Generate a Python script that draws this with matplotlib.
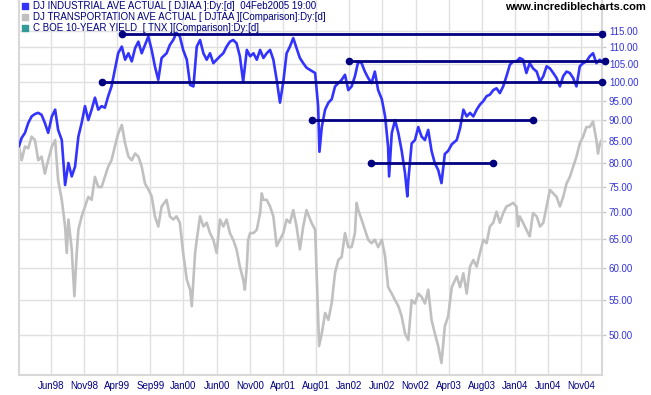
import matplotlib
matplotlib.use("Agg")
import matplotlib.pyplot as plt
from matplotlib.lines import Line2D
from matplotlib.ticker import FixedLocator, FuncFormatter, NullLocator

# trading-day index (0 = start of chart) and closes
djia_day = [0, 8, 18, 28, 38, 48, 58, 68, 78, 88,
            99, 109, 118, 129, 139, 149, 159, 169, 179, 189,
            199, 209, 219, 229, 239, 249, 259, 269, 279, 289,
            299, 310, 320, 330, 340, 350, 360, 370, 380, 390,
            400, 410, 420, 430, 445, 455, 465, 475, 485, 495,
            506, 516, 526, 536, 546, 556, 566, 576, 586, 596,
            606, 616, 626, 636, 646, 656, 666, 676, 687, 697,
            707, 717, 727, 737, 747, 757, 767, 777, 787, 797,
            807, 817, 827, 837, 847, 857, 867, 877, 893, 902,
            906, 913, 923, 933, 943, 953, 963, 973, 983, 993,
            1003, 1013, 1023, 1033, 1043, 1053, 1063, 1073, 1083, 1094,
            1104, 1113, 1116, 1124, 1134, 1144, 1154, 1164, 1171, 1174,
            1184, 1194, 1204, 1214, 1224, 1234, 1244, 1254, 1264, 1274,
            1284, 1294, 1305, 1320, 1330, 1340, 1350, 1360, 1370, 1380,
            1390, 1400, 1410, 1420, 1430, 1440, 1450, 1460, 1470, 1480,
            1490, 1500, 1510, 1520, 1530, 1540, 1550, 1561, 1571, 1581,
            1591, 1601, 1611, 1621, 1631, 1641, 1651, 1661, 1671, 1681,
            1691, 1701, 1711, 1721, 1731, 1741, 1751, 1757]
djia_val = [83.9, 85.8, 87.0, 89.4, 91.0, 91.6, 91.9, 91.4, 89.4, 87.0,
            91.0, 92.7, 87.7, 85.3, 75.4, 80.1, 77.2, 79.3, 86.1, 89.4,
            93.6, 90.1, 92.7, 95.8, 92.7, 93.6, 93.2, 96.2, 98.8, 103.4,
            108.2, 110.2, 106.3, 108.2, 105.8, 109.7, 111.7, 108.2, 110.7, 113.3,
            109.2, 104.3, 100.6, 106.8, 108.2, 110.7, 112.2, 114.4, 113.3, 109.2,
            106.3, 99.2, 98.8, 110.2, 112.2, 108.2, 106.3, 108.2, 105.3, 106.3,
            107.3, 108.2, 110.2, 111.7, 112.2, 111.2, 107.3, 100.1, 109.2, 107.3,
            108.2, 106.3, 109.2, 106.8, 108.2, 109.2, 106.3, 100.6, 94.5, 100.1,
            108.2, 110.2, 112.8, 109.7, 106.8, 105.3, 104.0, 103.4, 102.5, 93.6,
            82.6, 88.4, 92.7, 94.5, 95.4, 98.8, 99.7, 100.6, 102.0, 97.8,
            98.8, 101.6, 105.8, 105.3, 102.9, 101.1, 99.7, 102.9, 97.8, 95.4,
            91.0, 83.7, 77.2, 86.9, 90.1, 86.9, 82.8, 77.9, 73.1, 76.4,
            84.5, 85.3, 88.4, 86.1, 85.3, 87.7, 82.8, 80.0, 78.6, 75.8,
            82.1, 82.8, 84.3, 85.3, 88.1, 92.7, 91.0, 91.9, 91.0, 92.7,
            94.0, 94.9, 96.2, 96.6, 97.8, 98.3, 97.0, 98.8, 101.6, 104.8,
            105.8, 105.8, 106.8, 106.3, 102.5, 105.3, 103.8, 102.9, 100.1, 101.6,
            104.4, 103.8, 102.5, 101.1, 98.8, 101.6, 102.9, 102.5, 101.1, 98.8,
            104.4, 105.3, 105.8, 107.3, 108.2, 105.3, 106.3, 105.8]

djta_day = [0, 8, 18, 28, 38, 48, 58, 68, 78, 88,
            99, 109, 118, 129, 139, 144, 149, 159, 167, 174,
            179, 189, 199, 209, 219, 229, 239, 249, 259, 269,
            279, 289, 299, 310, 320, 330, 340, 350, 360, 370,
            380, 390, 400, 410, 420, 430, 445, 455, 465, 475,
            485, 495, 506, 516, 521, 526, 531, 536, 546, 556,
            566, 576, 586, 596, 606, 616, 626, 636, 646, 656,
            666, 676, 681, 687, 691, 697, 707, 717, 727, 732,
            737, 747, 757, 767, 777, 787, 797, 807, 817, 827,
            837, 847, 857, 867, 882, 893, 901, 905, 913, 923,
            933, 943, 953, 963, 973, 983, 993, 1003, 1013, 1018,
            1023, 1033, 1043, 1053, 1063, 1073, 1083, 1094, 1104, 1113,
            1124, 1134, 1144, 1154, 1164, 1174, 1184, 1194, 1204, 1214,
            1224, 1234, 1244, 1254, 1264, 1274, 1284, 1294, 1305, 1320,
            1330, 1340, 1350, 1360, 1370, 1380, 1390, 1400, 1410, 1420,
            1430, 1440, 1450, 1460, 1470, 1480, 1490, 1500, 1505, 1510,
            1520, 1530, 1540, 1550, 1561, 1571, 1581, 1591, 1601, 1611,
            1621, 1631, 1641, 1651, 1661, 1671, 1681, 1691, 1701, 1711,
            1721, 1731, 1741, 1746, 1751, 1757]
djta_val = [83.8, 80.7, 83.8, 83.4, 86.1, 85.3, 80.7, 81.5, 77.8, 80.7,
            83.8, 85.3, 76.4, 72.4, 67.3, 62.6, 68.6, 63.2, 55.6, 62.6,
            66.7, 69.2, 71.1, 73.0, 72.4, 77.1, 75.0, 75.0, 77.1, 79.3,
            80.7, 83.8, 86.8, 88.9, 84.5, 81.5, 80.7, 82.2, 81.5, 79.3,
            75.7, 74.5, 73.1, 69.2, 67.3, 71.1, 72.4, 69.2, 68.6, 69.2,
            68.0, 62.6, 58.2, 56.6, 54.1, 58.2, 62.6, 64.9, 69.2, 67.3,
            68.0, 66.1, 64.9, 62.6, 68.6, 67.3, 68.6, 66.1, 64.9, 63.2,
            60.3, 58.2, 56.6, 60.3, 64.9, 66.1, 66.1, 66.7, 69.8, 73.7,
            72.4, 72.4, 71.1, 69.2, 63.8, 64.9, 66.1, 68.6, 68.0, 70.4,
            67.3, 63.2, 67.3, 70.4, 68.0, 66.7, 54.1, 48.5, 50.2, 53.1,
            52.1, 54.6, 59.3, 61.4, 61.9, 66.1, 63.6, 63.6, 66.1, 71.8,
            70.4, 68.6, 66.7, 64.9, 64.3, 64.9, 63.6, 64.9, 62.0, 57.0,
            56.0, 55.0, 54.1, 52.6, 50.2, 49.3, 55.0, 54.5, 56.0, 55.5,
            54.5, 56.6, 52.1, 50.2, 48.5, 46.3, 51.2, 52.6, 57.0, 58.7,
            57.0, 59.2, 56.0, 60.3, 61.4, 60.3, 62.6, 64.9, 64.3, 67.3,
            68.0, 70.1, 68.0, 69.8, 71.1, 71.4, 71.8, 71.1, 67.3, 69.2,
            68.0, 66.7, 65.5, 69.8, 69.2, 67.3, 68.0, 71.1, 74.4, 73.7,
            73.0, 71.1, 73.0, 75.7, 77.1, 79.3, 81.5, 84.5, 86.1, 88.4,
            88.4, 89.7, 85.3, 82.2, 84.3, 85.3]

# horizontal support / resistance lines: start day, end day, level
line_start = [310, 251, 996, 884, 1061]
line_end = [1757, 1757, 1766, 1551, 1430]
line_level = [114.2, 100.0, 106.0, 90.0, 80.0]

tick_days = [96 + 100 * i for i in range(17)]
tick_labels = ["Jun98", "Nov98", "Apr99", "Sep99", "Jan00", "Jun00", "Nov00",
               "Apr01", "Aug01", "Jan02", "Jun02", "Nov02", "Apr03", "Aug03",
               "Jan04", "Jun04", "Nov04"]
price_ticks = [50, 55, 60, 65, 70, 75, 80, 85, 90, 95, 100, 105, 110, 115]

legend_labels = ["DJ INDUSTRIAL AVE ACTUAL [ DJIAA ]:Dy:[d]  04Feb2005 19:00",
                 "DJ TRANSPORTATION AVE ACTUAL [ DJTAA ][Comparison]:Dy:[d]",
                 "C BOE 10-YEAR YIELD  [ TNX ][Comparison]:Dy:[d]"]
legend_colors = ["#3333ff", "#c0c0c0", "#339999"]

plt.rcParams['font.family'] = ['Liberation Sans', 'DejaVu Sans']

fig = plt.figure(figsize=(6.51, 3.95), dpi=100)
ax = fig.add_axes([19 / 651, 20 / 395, 583 / 651, 375 / 395])
ax.set_yscale('log')

ax.plot(djta_day, djta_val, color='#c0c0c0', lw=1.9, zorder=2)
ax.plot(djia_day, djia_val, color='#3333ff', lw=1.9, zorder=3)
for d0, d1, lvl in zip(line_start, line_end, line_level):
    ax.plot([d0, d1], [lvl, lvl], color='#000080', lw=2.0, marker='o',
            ms=4.5, zorder=4, clip_on=False)

ax.set_xlim(0, 1758)
ax.set_ylim(44.8, 125.2)

ax.set_xticks(tick_days)
ax.set_xticklabels(tick_labels)
ax.yaxis.tick_right()
ax.yaxis.set_major_locator(FixedLocator(price_ticks))
ax.yaxis.set_major_formatter(FuncFormatter(lambda v, p: "%.2f" % v))
ax.yaxis.set_minor_locator(NullLocator())

ax.tick_params(axis='x', length=0, labelsize=7, labelcolor='#000080', pad=4)
ax.tick_params(axis='y', length=3, width=1, color='#c8c8c8', labelsize=7,
               labelcolor='#3333dd', pad=2)

ax.grid(True, color='#e0e0e0', lw=1)
ax.set_axisbelow(True)
ax.spines['top'].set_visible(False)
for s in ['left', 'right', 'bottom']:
    ax.spines[s].set_color('#d8d8d8')
    ax.spines[s].set_linewidth(1.5)

# legend, top left
for i, (lab, col) in enumerate(zip(legend_labels, legend_colors)):
    y = 1 - (6 + 11 * i) / 395
    fig.add_artist(Line2D([25 / 651], [y], marker='s', ms=5, color=col,
                          transform=fig.transFigure))
    fig.text(33 / 651, y, lab, fontsize=7, color='#000080', va='center')

fig.text(646 / 651, 1 - 7 / 395, "www.incrediblecharts.com", fontsize=8,
         fontweight='bold', color='black', ha='right', va='center')

fig.savefig("out.png", dpi=100)
